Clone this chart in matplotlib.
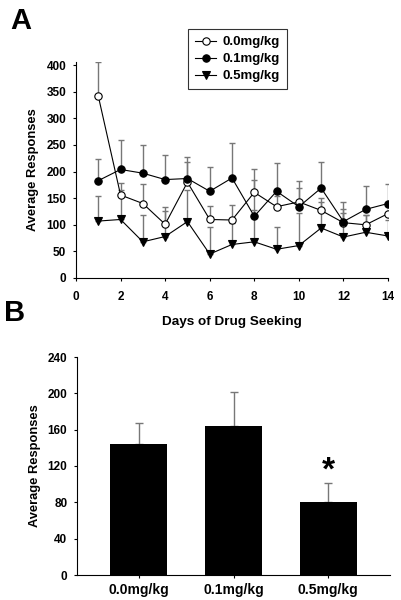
import numpy as np
import matplotlib.pyplot as plt

plt.rcParams['font.family'] = ['Liberation Sans', 'DejaVu Sans']
plt.rcParams['font.weight'] = 'bold'

# Panel A data
days = np.arange(1, 15)
dose_labels = ['0.0mg/kg', '0.1mg/kg', '0.5mg/kg']

mean_00 = [342, 156, 140, 101, 180, 110, 109, 161, 134, 143, 127, 104, 100, 121]
err_00 = [64, 22, 37, 33, 38, 26, 28, 24, 20, 27, 24, 25, 18, 20]

mean_01 = [183, 204, 197, 185, 187, 163, 188, 116, 163, 134, 169, 106, 129, 140]
err_01 = [40, 55, 53, 46, 40, 46, 65, 89, 54, 48, 49, 37, 43, 37]

mean_05 = [107, 110, 68, 78, 106, 45, 63, 68, 54, 61, 94, 77, 86, 79]
err_05 = [48, 55, 50, 47, 60, 50, 40, 60, 42, 62, 49, 45, 32, 30]

# Panel B data
bar_means = [144, 164, 80]
bar_errs = [23, 38, 21]

fig = plt.figure(figsize=(4.01, 6.0), dpi=100)

# ---- Panel A ----
ax1 = fig.add_axes([76/401, 1-278/600, (388-76)/401, (278-62)/600])
ecol = '#777777'
series = [(mean_00, err_00, 'o', 'white'),
          (mean_01, err_01, 'o', 'black'),
          (mean_05, err_05, 'v', 'black')]
for (m, e, mk, fc), lab in zip(series, dose_labels):
    ax1.errorbar(days, m, yerr=[np.zeros(len(e)), e], fmt='none', ecolor=ecol,
                 elinewidth=1.0, capsize=2.2, capthick=1.0, zorder=1)
    ax1.plot(days, m, color='black', lw=0.8, marker=mk, ms=5.8 if mk == 'v' else 5.3,
             mfc=fc, mec='black', mew=0.8, label=lab, zorder=3)

ax1.set_xlim(0, 14)
ax1.set_ylim(0, 406)
ax1.set_xticks(range(0, 15, 2))
ax1.set_yticks(range(0, 401, 50))
ax1.spines['top'].set_visible(False)
ax1.spines['right'].set_visible(False)
ax1.tick_params(labelsize=8.5, length=2.5, width=0.8, direction='out')
ax1.tick_params(axis='x', pad=7)
ax1.tick_params(axis='y', pad=4.5)
ax1.set_xlabel('Days of Drug Seeking', fontsize=9.7, fontweight='bold', labelpad=9)
ax1.set_ylabel('Average Responses', fontsize=9.3, fontweight='bold', labelpad=5)

leg = fig.legend(loc='upper left', bbox_to_anchor=(188/401, 1-29/600), fontsize=9.5,
                 frameon=True, fancybox=False, edgecolor='black', borderaxespad=0,
                 handlelength=1.6, handletextpad=0.5, labelspacing=0.35,
                 borderpad=0.55)
leg.get_frame().set_linewidth(0.8)

fig.text(10/401, 1-21/600, 'A', fontsize=21, fontweight='bold', va='center', ha='left')

# ---- Panel B ----
ax2 = fig.add_axes([77/401, 1-575/600, (390-77)/401, (575-357)/600])
x = np.arange(len(dose_labels))
ax2.bar(x, bar_means, width=0.6, color='black', zorder=2)
ax2.errorbar(x, bar_means, yerr=[np.zeros(3), bar_errs], fmt='none', ecolor=ecol,
             elinewidth=1.0, capsize=3, capthick=1.0, zorder=1)
ax2.text(x[2], bar_means[2] + bar_errs[2] - 4, '*', fontsize=24, fontweight='bold',
         ha='center', va='bottom')
ax2.set_xlim(-0.65, 2.65)
ax2.set_ylim(0, 240)
ax2.set_yticks(range(0, 241, 40))
ax2.set_xticks(x)
ax2.set_xticklabels(dose_labels)
ax2.spines['top'].set_visible(False)
ax2.spines['right'].set_visible(False)
ax2.tick_params(axis='y', labelsize=8.5, length=2.5, width=0.8, pad=4.5)
ax2.tick_params(axis='x', labelsize=10, length=2.5, width=0.8, pad=3)
ax2.set_ylabel('Average Responses', fontsize=9.3, fontweight='bold', labelpad=5)

fig.text(4/401, 1-313/600, 'B', fontsize=21, fontweight='bold', va='center', ha='left')

fig.savefig('out.png', dpi=100)
